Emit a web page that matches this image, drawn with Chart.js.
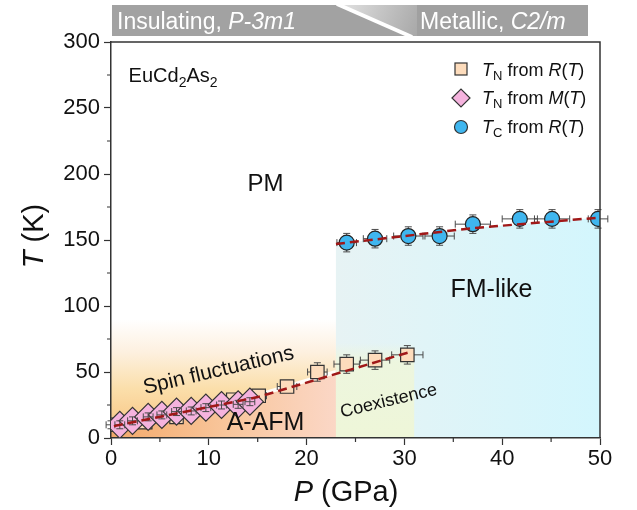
<!DOCTYPE html>
<html>
<head>
<meta charset="utf-8">
<script src="https://cdn.jsdelivr.net/npm/chart.js@4.4.1/dist/chart.umd.min.js"></script>
<style>
html, body { margin: 0; padding: 0; background: #fff; }
#wrap { width: 637px; height: 510px; }
</style>
</head>
<body>
<div id="wrap"><canvas id="grafico"></canvas></div>
<script>
// dados
// T_N a partir de R(T)
const pressaoRT = [0, 3.5, 6.7, 12.5, 15.1, 18.0, 21.1, 24.1, 27.0, 30.3];
const tnRT      = [10, 12, 16, 29, 32, 39, 50, 56, 59, 63];
const erroP_RT  = [0.5, 0.5, 0.5, 0.6, 0.8, 1.0, 1.0, 1.3, 1.5, 1.6];
const erroT_RT  = [3, 3, 3, 3, 4, 4, 7, 7, 7, 7];

// T_N a partir de M(T)
const pressaoMT = [0.9, 2.2, 3.8, 5.2, 6.7, 8.2, 9.7, 11.3, 13.0, 14.2];
const tnMT      = [10, 13, 16, 17.5, 20, 20.5, 23, 25, 25.5, 27.5];
const erroP_MT  = [0.5, 0.5, 0.5, 0.5, 0.5, 0.5, 0.5, 0.5, 0.5, 0.5];
const erroT_MT  = [3, 3, 3, 3, 3, 3, 3, 3, 3, 3];

// T_C a partir de R(T)
const pressaoTC = [24.1, 27.0, 30.4, 33.6, 37.0, 41.8, 45.1, 49.8];
const tcRT      = [148, 151, 153, 153, 162, 166, 166, 166];
const erroP_TC  = [1.0, 1.2, 1.5, 1.5, 1.8, 1.8, 1.8, 1.0];
const erroT_TC  = [7, 7, 7, 7, 7, 7, 7, 7];

// linhas tracejadas (guias)
const guiaBaixoP = [0.3, 15, 30.5];
const guiaBaixoT = [9, 31, 65];
const guiaAltoP  = [23, 37, 50];
const guiaAltoT  = [147, 159, 167];

// eixos
const ticksP = [0, 10, 20, 30, 40, 50];
const ticksT = [0, 50, 100, 150, 200, 250, 300];
const limiteFase = 23;     // GPa, mudança estrutural
const limiteCoex = 31;     // GPa, fim da coexistência

const FONTE = '"Liberation Sans", Arial, sans-serif';

function pontos(xs, ys) {
    return xs.map((x, i) => ({ x: x, y: ys[i] }));
}

function interpola(xs, ys, x) {
    if (x <= xs[0]) {
        return ys[0] + (ys[1] - ys[0]) * (x - xs[0]) / (xs[1] - xs[0]);
    }
    for (let i = 1; i < xs.length; i++) {
        if (x <= xs[i]) {
            return ys[i - 1] + (ys[i] - ys[i - 1]) * (x - xs[i - 1]) / (xs[i] - xs[i - 1]);
        }
    }
    const n = xs.length - 1;
    return ys[n] + (ys[n] - ys[n - 1]) * (x - xs[n]) / (xs[n] - xs[n - 1]);
}

function fonte(p) {
    return (p.it ? 'italic ' : '') + p.tam + 'px ' + FONTE;
}

// escreve texto com partes em itálico / subscrito
function escreveRico(ctx, partes, x, y, alinhamento) {
    let total = 0;
    partes.forEach(p => {
        ctx.font = fonte(p);
        p.w = ctx.measureText(p.t).width;
        total += p.w;
    });
    let cx = alinhamento === 'center' ? x - total / 2 : x;
    ctx.textAlign = 'left';
    ctx.textBaseline = 'alphabetic';
    partes.forEach(p => {
        ctx.font = fonte(p);
        ctx.fillText(p.t, cx, y + (p.dy || 0));
        cx += p.w;
    });
}

function desenhaErros(chart, P, T, eP, eT) {
    const ctx = chart.ctx;
    const sx = chart.scales.x, sy = chart.scales.y;
    ctx.save();
    ctx.strokeStyle = '#4a4a4a';
    ctx.lineWidth = 1;
    for (let i = 0; i < P.length; i++) {
        const px = sx.getPixelForValue(P[i]);
        const py = sy.getPixelForValue(T[i]);
        const x1 = sx.getPixelForValue(P[i] - eP[i]);
        const x2 = sx.getPixelForValue(P[i] + eP[i]);
        const y1 = sy.getPixelForValue(T[i] - eT[i]);
        const y2 = sy.getPixelForValue(T[i] + eT[i]);
        ctx.beginPath();
        ctx.moveTo(x1, py); ctx.lineTo(x2, py);
        ctx.moveTo(x1, py - 3.5); ctx.lineTo(x1, py + 3.5);
        ctx.moveTo(x2, py - 3.5); ctx.lineTo(x2, py + 3.5);
        ctx.moveTo(px, y1); ctx.lineTo(px, y2);
        ctx.moveTo(px - 3.5, y1); ctx.lineTo(px + 3.5, y1);
        ctx.moveTo(px - 3.5, y2); ctx.lineTo(px + 3.5, y2);
        ctx.stroke();
    }
    ctx.restore();
}

const fundoPlugin = {
    id: 'fundo',
    beforeDraw(chart) {
        const ctx = chart.ctx;
        const sx = chart.scales.x, sy = chart.scales.y;
        const X = v => sx.getPixelForValue(v);
        const Y = v => sy.getPixelForValue(v);
        ctx.save();

        // região laranja (isolante)
        let g = ctx.createLinearGradient(0, Y(0), 0, Y(90));
        g.addColorStop(0, '#f7c07c');
        g.addColorStop(0.42, '#fbdfab');
        g.addColorStop(0.72, '#fdf0df');
        g.addColorStop(1, '#ffffff');
        ctx.fillStyle = g;
        ctx.fillRect(X(0), Y(90), X(limiteFase) - X(0), Y(0) - Y(90));

        // abaixo da linha (A-AFM)
        g = ctx.createLinearGradient(X(0), 0, X(limiteFase), 0);
        g.addColorStop(0, '#f3a96a');
        g.addColorStop(0.5, '#f8c59a');
        g.addColorStop(1, '#fbd7c6');
        ctx.fillStyle = g;
        ctx.beginPath();
        ctx.moveTo(X(0), Y(0));
        ctx.lineTo(X(0), Y(interpola(guiaBaixoP, guiaBaixoT, 0)));
        guiaBaixoP.forEach((p, i) => { if (p > 0 && p < limiteFase) ctx.lineTo(X(p), Y(guiaBaixoT[i])); });
        ctx.lineTo(X(limiteFase), Y(interpola(guiaBaixoP, guiaBaixoT, limiteFase)));
        ctx.lineTo(X(limiteFase), Y(0));
        ctx.closePath();
        ctx.fill();

        // faixa branca acima da linha
        ctx.strokeStyle = 'rgba(255,255,255,0.9)';
        ctx.lineWidth = 4;
        ctx.beginPath();
        ctx.moveTo(X(8), Y(interpola(guiaBaixoP, guiaBaixoT, 8)) - 2);
        guiaBaixoP.forEach((p, i) => { if (p > 8 && p < limiteFase) ctx.lineTo(X(p), Y(guiaBaixoT[i]) - 2); });
        ctx.lineTo(X(limiteFase), Y(interpola(guiaBaixoP, guiaBaixoT, limiteFase)) - 2);
        ctx.stroke();

        // região azul (metálica)
        g = ctx.createLinearGradient(X(limiteFase), 0, X(50), 0);
        g.addColorStop(0, '#e7f3f4');
        g.addColorStop(1, '#d3f6fd');
        ctx.fillStyle = g;
        ctx.beginPath();
        ctx.moveTo(X(limiteFase), Y(0));
        ctx.lineTo(X(limiteFase), Y(guiaAltoT[0]));
        guiaAltoP.forEach((p, i) => ctx.lineTo(X(p), Y(guiaAltoT[i])));
        ctx.lineTo(X(50), Y(0));
        ctx.closePath();
        ctx.fill();

        // coexistência
        g = ctx.createLinearGradient(0, Y(0), 0, Y(72));
        g.addColorStop(0, 'rgba(238,246,216,1)');
        g.addColorStop(0.8, 'rgba(238,246,220,0.9)');
        g.addColorStop(1, 'rgba(238,246,220,0)');
        ctx.fillStyle = g;
        ctx.fillRect(X(limiteFase), Y(72), X(limiteCoex) - X(limiteFase), Y(0) - Y(72));

        ctx.restore();
    },
    beforeDatasetDraw(chart, args) {
        if (args.index === 0) desenhaErros(chart, pressaoRT, tnRT, erroP_RT, erroT_RT);
        if (args.index === 2) desenhaErros(chart, pressaoTC, tcRT, erroP_TC, erroT_TC);
    },
    afterDatasetDraw(chart, args) {
        if (args.index === 1) desenhaErros(chart, pressaoMT, tnMT, erroP_MT, erroT_MT);
    },
    afterDraw(chart) {
        const ctx = chart.ctx;
        const a = chart.chartArea;
        const sx = chart.scales.x, sy = chart.scales.y;
        const X = v => sx.getPixelForValue(v);
        const Y = v => sy.getPixelForValue(v);
        ctx.save();

        // moldura
        ctx.strokeStyle = '#333';
        ctx.lineWidth = 1.5;
        ctx.beginPath();
        ctx.moveTo(a.left, a.top); ctx.lineTo(a.right, a.top); ctx.lineTo(a.right, a.bottom);
        ctx.stroke();

        // ticks menores
        ctx.lineWidth = 1.2;
        ctx.beginPath();
        for (let p = 5; p < 50; p += 10) {
            ctx.moveTo(X(p), a.bottom); ctx.lineTo(X(p), a.bottom + 4);
        }
        for (let t = 25; t < 300; t += 50) {
            ctx.moveTo(a.left, Y(t)); ctx.lineTo(a.left - 4, Y(t));
        }
        ctx.stroke();

        // títulos dos eixos
        ctx.fillStyle = '#111';
        escreveRico(ctx, [{ t: 'P', tam: 29, it: true }, { t: ' (GPa)', tam: 29 }], 346, 501, 'center');
        ctx.save();
        ctx.translate(43, 236);
        ctx.rotate(-Math.PI / 2);
        escreveRico(ctx, [{ t: 'T', tam: 29, it: true }, { t: ' (K)', tam: 29 }], 0, 0, 'center');
        ctx.restore();

        // faixa superior
        const topo = 5, base = 36;
        ctx.fillStyle = '#a2a2a2';
        ctx.beginPath();
        ctx.moveTo(a.left + 1, topo); ctx.lineTo(336, topo); ctx.lineTo(409, base); ctx.lineTo(a.left + 1, base);
        ctx.closePath(); ctx.fill();
        let g = ctx.createLinearGradient(340, topo, 417, base);
        g.addColorStop(0, '#e2e2e2');
        g.addColorStop(0.5, '#c4c4c4');
        g.addColorStop(1, '#a8a8a8');
        ctx.fillStyle = g;
        ctx.beginPath();
        ctx.moveTo(340, topo); ctx.lineTo(417, topo); ctx.lineTo(417, base); ctx.lineTo(413, base);
        ctx.closePath(); ctx.fill();
        ctx.fillStyle = '#a0a0a0';
        ctx.fillRect(417, topo, 588 - 417, base - topo);
        ctx.strokeStyle = '#ffffff';
        ctx.lineWidth = 4;
        ctx.beginPath(); ctx.moveTo(337, topo - 1); ctx.lineTo(412, base + 1); ctx.stroke();

        ctx.fillStyle = '#ffffff';
        escreveRico(ctx, [{ t: 'Insulating, ', tam: 23 }, { t: 'P-3m1', tam: 23, it: true }], 117, 29, 'left');
        escreveRico(ctx, [{ t: 'Metallic, ', tam: 23 }, { t: 'C2/m', tam: 23, it: true }], 420, 29, 'left');

        // rótulos dentro do gráfico
        ctx.fillStyle = '#111';
        escreveRico(ctx, [
            { t: 'EuCd', tam: 20 }, { t: '2', tam: 14, dy: 5 },
            { t: 'As', tam: 20 }, { t: '2', tam: 14, dy: 5 }
        ], X(1.8), Y(270), 'left');
        ctx.font = '24px ' + FONTE;
        ctx.textAlign = 'center'; ctx.textBaseline = 'middle';
        ctx.fillText('PM', X(15.8), Y(192));
        ctx.font = '25px ' + FONTE;
        ctx.fillText('FM-like', X(38.9), Y(112));
        ctx.fillText('A-AFM', X(15.8), Y(11.5));

        ctx.save();
        ctx.translate(X(11), Y(51));
        ctx.rotate(-13.3 * Math.PI / 180);
        ctx.font = '21px ' + FONTE;
        ctx.fillText('Spin fluctuations', 0, 0);
        ctx.restore();

        ctx.save();
        ctx.translate(X(28.4), Y(28));
        ctx.rotate(-13.5 * Math.PI / 180);
        ctx.font = '18px ' + FONTE;
        ctx.fillText('Coexistence', 0, 0);
        ctx.restore();

        // legenda
        const lx = 461;
        ctx.lineWidth = 1.2;
        ctx.strokeStyle = '#333';
        ctx.fillStyle = '#fddcbc';
        ctx.fillRect(lx - 6, 63, 12, 12); ctx.strokeRect(lx - 6, 63, 12, 12);
        ctx.fillStyle = '#f5b3de';
        ctx.beginPath();
        ctx.moveTo(lx - 9, 98); ctx.lineTo(lx, 89); ctx.lineTo(lx + 9, 98); ctx.lineTo(lx, 107);
        ctx.closePath(); ctx.fill(); ctx.stroke();
        ctx.fillStyle = '#3fb6ef';
        ctx.beginPath(); ctx.arc(lx, 127, 6.5, 0, Math.PI * 2); ctx.fill(); ctx.stroke();

        ctx.fillStyle = '#111';
        const tl = 18, ts = 13;
        escreveRico(ctx, [{ t: 'T', tam: tl, it: true }, { t: 'N', tam: ts, dy: 4 }, { t: ' from ', tam: tl },
            { t: 'R', tam: tl, it: true }, { t: '(', tam: tl }, { t: 'T', tam: tl, it: true }, { t: ')', tam: tl }], 482, 76, 'left');
        escreveRico(ctx, [{ t: 'T', tam: tl, it: true }, { t: 'N', tam: ts, dy: 4 }, { t: ' from ', tam: tl },
            { t: 'M', tam: tl, it: true }, { t: '(', tam: tl }, { t: 'T', tam: tl, it: true }, { t: ')', tam: tl }], 482, 104, 'left');
        escreveRico(ctx, [{ t: 'T', tam: tl, it: true }, { t: 'C', tam: ts, dy: 4 }, { t: ' from ', tam: tl },
            { t: 'R', tam: tl, it: true }, { t: '(', tam: tl }, { t: 'T', tam: tl, it: true }, { t: ')', tam: tl }], 482, 133, 'left');

        ctx.restore();
    }
};

const eixoTicks = {
    font: { family: FONTE, size: 22 },
    color: '#111',
    padding: 4
};

const grafico = new Chart(document.getElementById('grafico'), {
    type: 'scatter',
    data: {
        datasets: [
            {
                label: 'TN from R(T)',
                data: pontos(pressaoRT, tnRT),
                pointStyle: 'rect',
                pointRadius: 9.5,
                backgroundColor: '#fddcbc',
                borderColor: '#333',
                borderWidth: 1.2,
                order: 2
            },
            {
                label: 'TN from M(T)',
                data: pontos(pressaoMT, tnMT),
                pointStyle: 'rectRot',
                pointRadius: 13.5,
                backgroundColor: '#f5b3de',
                borderColor: '#333',
                borderWidth: 1.2,
                order: 1
            },
            {
                label: 'TC from R(T)',
                data: pontos(pressaoTC, tcRT),
                pointStyle: 'circle',
                pointRadius: 7.5,
                backgroundColor: '#3fb6ef',
                borderColor: '#222',
                borderWidth: 1.2,
                order: 2
            },
            {
                label: 'guia baixo',
                data: pontos(guiaBaixoP, guiaBaixoT),
                showLine: true,
                pointRadius: 0,
                borderColor: '#a01818',
                borderWidth: 2.5,
                borderDash: [9, 5],
                order: 0
            },
            {
                label: 'guia alto',
                data: pontos(guiaAltoP, guiaAltoT),
                showLine: true,
                pointRadius: 0,
                borderColor: '#a01818',
                borderWidth: 2.5,
                borderDash: [9, 5],
                order: 0
            }
        ]
    },
    options: {
        responsive: true,
        maintainAspectRatio: false,
        animation: false,
        layout: { padding: { top: 42, right: 37, left: 0, bottom: 0 } },
        plugins: {
            legend: { display: false },
            tooltip: { enabled: false }
        },
        scales: {
            x: {
                type: 'linear',
                min: 0,
                max: 50,
                afterBuildTicks: s => { s.ticks = ticksP.map(v => ({ value: v })); },
                ticks: { ...eixoTicks, padding: 1 },
                grid: { drawOnChartArea: false, tickLength: 7, color: '#333', tickWidth: 1.2 },
                border: { color: '#333', width: 1.5 },
                afterFit: s => { s.height = 72; }
            },
            y: {
                type: 'linear',
                min: 0,
                max: 300,
                afterBuildTicks: s => { s.ticks = ticksT.map(v => ({ value: v })); },
                ticks: eixoTicks,
                grid: { drawOnChartArea: false, tickLength: 7, color: '#333', tickWidth: 1.2 },
                border: { color: '#333', width: 1.5 },
                afterFit: s => { s.width = 111; }
            }
        }
    },
    plugins: [fundoPlugin]
});
</script>
</body>
</html>
